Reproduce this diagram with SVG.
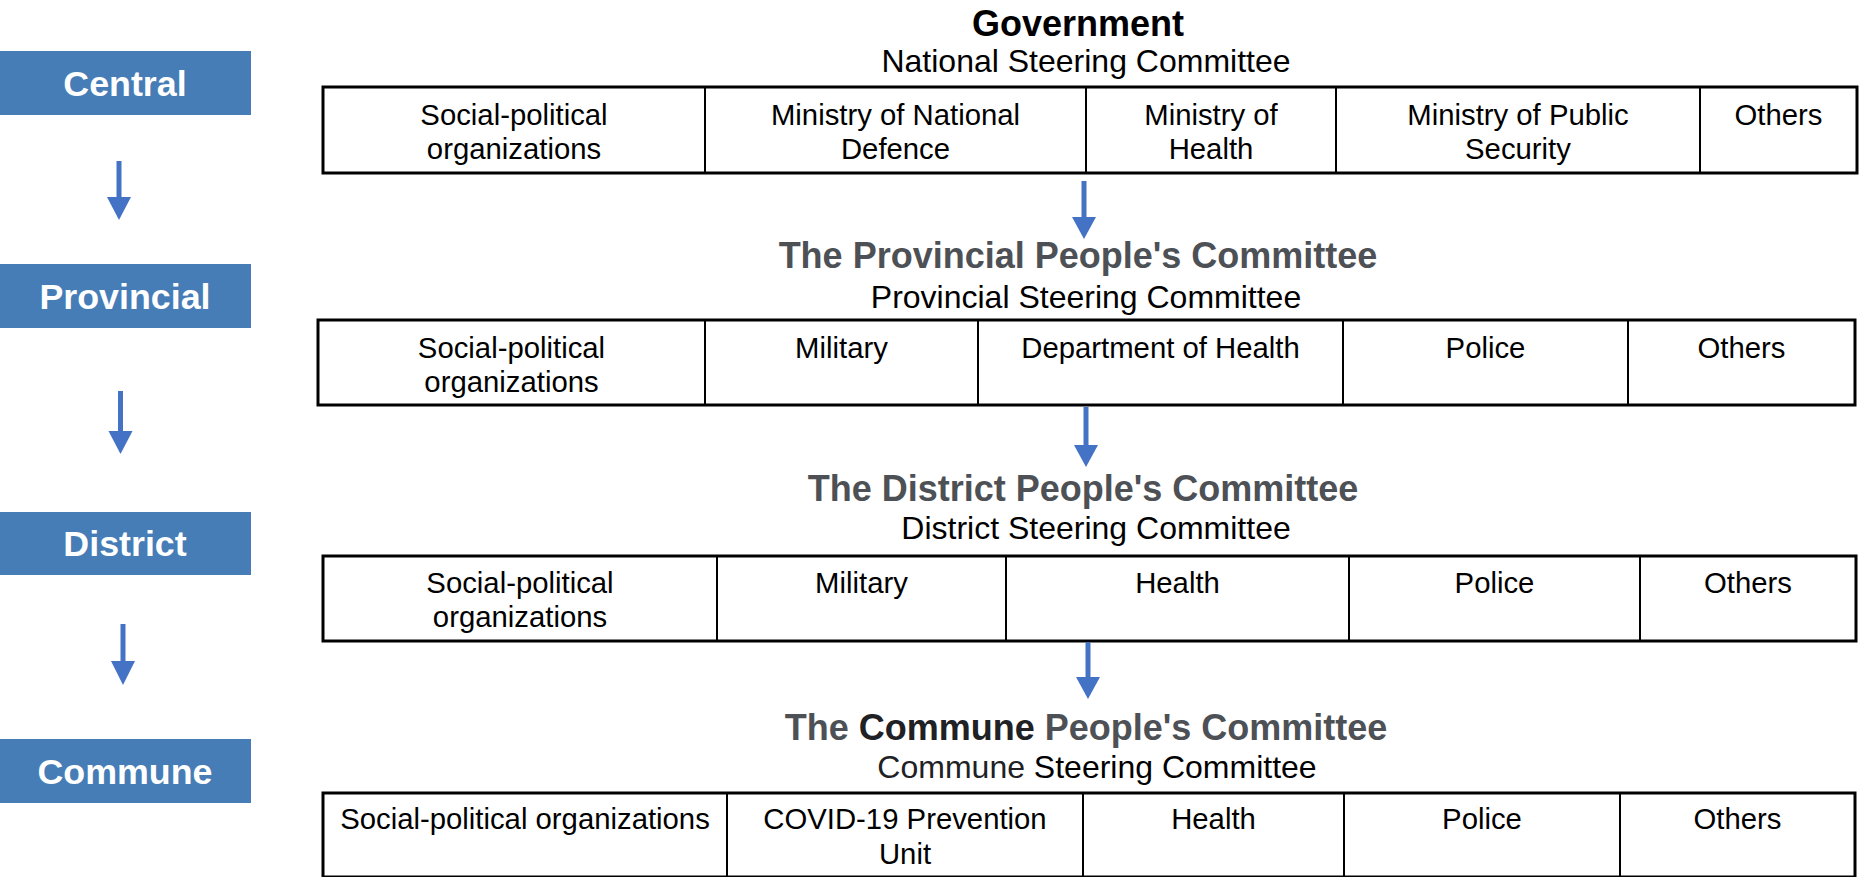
<svg xmlns="http://www.w3.org/2000/svg" width="1863" height="877" viewBox="0 0 1863 877">
<style>
text{font-family:"Liberation Sans",Arial,sans-serif;}
.lvl{fill:#467DB6;}
.lvlt{fill:#ffffff;font-size:35.8px;font-weight:bold;text-anchor:middle;}
.head{font-size:36px;font-weight:bold;text-anchor:middle;fill:#4D5156;}
.sub{font-size:32px;text-anchor:middle;fill:#000;}
.cell{font-size:29.3px;text-anchor:middle;fill:#000;}
.outer{fill:#fff;stroke:#000;stroke-width:3;}
.sep{stroke:#000;stroke-width:2;}
.arr{stroke:#4472C4;stroke-width:5;fill:none;}
.ah{fill:#4472C4;}
</style>
<rect width="1863" height="877" fill="#fff"/>

<g id="level-central"><rect class="lvl" x="0" y="51" width="251" height="64"/><text class="lvlt" x="125" y="95.5">Central</text></g>
<g id="level-provincial"><rect class="lvl" x="0" y="264" width="251" height="64"/><text class="lvlt" x="125" y="308.5">Provincial</text></g>
<g id="level-district"><rect class="lvl" x="0" y="512" width="251" height="63"/><text class="lvlt" x="125" y="556">District</text></g>
<g id="level-commune"><rect class="lvl" x="0" y="739" width="251" height="64"/><text class="lvlt" x="125" y="783.5">Commune</text></g>

<g id="national">
<text class="head" x="1078" y="35.5" style="fill:#000">Government</text>
<text class="sub" x="1086" y="72">National Steering Committee</text>
<rect class="outer" x="323" y="87" width="1534" height="86"/>
<line class="sep" x1="705" y1="87" x2="705" y2="173"/>
<line class="sep" x1="1086" y1="87" x2="1086" y2="173"/>
<line class="sep" x1="1336" y1="87" x2="1336" y2="173"/>
<line class="sep" x1="1700" y1="87" x2="1700" y2="173"/>
<text class="cell" x="514" y="124.5">Social-political<tspan x="514" dy="34.5">organizations</tspan></text>
<text class="cell" x="895.5" y="124.5">Ministry of National<tspan x="895.5" dy="34.5">Defence</tspan></text>
<text class="cell" x="1211" y="124.5">Ministry of<tspan x="1211" dy="34.5">Health</tspan></text>
<text class="cell" x="1518" y="124.5">Ministry of Public<tspan x="1518" dy="34.5">Security</tspan></text>
<text class="cell" x="1778.5" y="124.5">Others</text>
</g>

<g id="provincial">
<text class="head" x="1078" y="268">The Provincial People's Committee</text>
<text class="sub" x="1086" y="308">Provincial Steering Committee</text>
<rect class="outer" x="318" y="320" width="1537" height="85"/>
<line class="sep" x1="705" y1="320" x2="705" y2="405"/>
<line class="sep" x1="978" y1="320" x2="978" y2="405"/>
<line class="sep" x1="1343" y1="320" x2="1343" y2="405"/>
<line class="sep" x1="1628" y1="320" x2="1628" y2="405"/>
<text class="cell" x="511.5" y="357.5">Social-political<tspan x="511.5" dy="34.5">organizations</tspan></text>
<text class="cell" x="841.5" y="357.5">Military</text>
<text class="cell" x="1160.5" y="357.5">Department of Health</text>
<text class="cell" x="1485.5" y="357.5">Police</text>
<text class="cell" x="1741.5" y="357.5">Others</text>
</g>

<g id="district">
<text class="head" x="1083" y="501">The District People's Committee</text>
<text class="sub" x="1096" y="539">District Steering Committee</text>
<rect class="outer" x="323" y="556" width="1533" height="85"/>
<line class="sep" x1="717" y1="556" x2="717" y2="641"/>
<line class="sep" x1="1006" y1="556" x2="1006" y2="641"/>
<line class="sep" x1="1349" y1="556" x2="1349" y2="641"/>
<line class="sep" x1="1640" y1="556" x2="1640" y2="641"/>
<text class="cell" x="520" y="592.5">Social-political<tspan x="520" dy="34.5">organizations</tspan></text>
<text class="cell" x="861.5" y="592.5">Military</text>
<text class="cell" x="1177.5" y="592.5">Health</text>
<text class="cell" x="1494.5" y="592.5">Police</text>
<text class="cell" x="1748" y="592.5">Others</text>
</g>

<g id="commune">
<text class="head" x="1086" y="740">The <tspan style="fill:#202124">Commune</tspan> People's Committee</text>
<text class="sub" x="1097" y="778"><tspan style="fill:#202124">Commune</tspan> Steering Committee</text>
<rect class="outer" x="323" y="793" width="1532" height="84"/>
<line class="sep" x1="727" y1="793" x2="727" y2="877"/>
<line class="sep" x1="1083" y1="793" x2="1083" y2="877"/>
<line class="sep" x1="1344" y1="793" x2="1344" y2="877"/>
<line class="sep" x1="1620" y1="793" x2="1620" y2="877"/>
<text class="cell" x="525" y="828.5">Social-political organizations</text>
<text class="cell" x="905" y="828.5">COVID-19 Prevention<tspan x="905" dy="35">Unit</tspan></text>
<text class="cell" x="1213.5" y="828.5">Health</text>
<text class="cell" x="1482" y="828.5">Police</text>
<text class="cell" x="1737.5" y="828.5">Others</text>
</g>

<g id="connectors">
<line class="arr" x1="119" y1="161" x2="119" y2="199"/><polygon class="ah" points="107,197 131,197 119,220"/>
<line class="arr" x1="120.5" y1="391" x2="120.5" y2="433"/><polygon class="ah" points="108.5,431 132.5,431 120.5,454"/>
<line class="arr" x1="123" y1="624" x2="123" y2="663"/><polygon class="ah" points="111,661 135,661 123,685"/>
<line class="arr" x1="1084" y1="181" x2="1084" y2="219"/><polygon class="ah" points="1072,217 1096,217 1084,239"/>
<line class="arr" x1="1086" y1="407" x2="1086" y2="447"/><polygon class="ah" points="1074,445 1098,445 1086,467"/>
<line class="arr" x1="1088" y1="642" x2="1088" y2="679"/><polygon class="ah" points="1076,677 1100,677 1088,699"/>
</g>
</svg>
